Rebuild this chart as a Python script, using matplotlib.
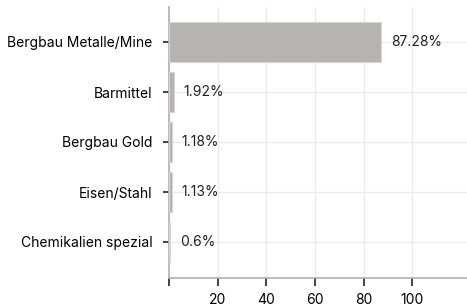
import matplotlib
matplotlib.use("Agg")
import matplotlib.pyplot as plt

categories = ["Bergbau Metalle/Mine", "Barmittel", "Bergbau Gold", "Eisen/Stahl", "Chemikalien spezial"]
values = [87.28, 1.92, 1.18, 1.13, 0.6]
labels = ["87.28%", "1.92%", "1.18%", "1.13%", "0.6%"]
xticks = [0, 20, 40, 60, 80, 100]
xticklabels = ["", "20", "40", "60", "80", "100"]

plt.rcParams["font.family"] = ["Inter", "DejaVu Sans"]

fig = plt.figure(figsize=(4.67, 3.08), dpi=100)
ax = fig.add_axes([169 / 467, 30 / 308, 1 - 169 / 467, 271 / 308])

ypos = list(range(len(categories)))
ax.barh(ypos, values, height=0.8, color="#b5b4b0", edgecolor="#d6d5d2", linewidth=0.8, zorder=3)
for y, v, t in zip(ypos, values, labels):
    ax.text(v + 4, y, t, va="center", ha="left", fontsize=10, color="#222222")

ax.set_yticks(ypos)
ax.set_yticklabels(categories, fontsize=10)
ax.set_xticks(xticks)
ax.set_xticklabels(xticklabels, fontsize=10)
ax.set_xlim(0, 122.4)
ax.set_ylim(4.72, -0.7)

ax.grid(True, color="#ebebeb", linewidth=1, zorder=0)
ax.set_axisbelow(True)
for s in ["top", "right"]:
    ax.spines[s].set_visible(False)
for s in ["left", "bottom"]:
    ax.spines[s].set_color("#b0b0b0")
    ax.spines[s].set_linewidth(1.2)
ax.tick_params(axis="y", length=4, width=1.2, color="#222222", pad=8)
ax.tick_params(axis="x", length=6, width=1.2, color="#222222", pad=5)

plt.savefig("out.png", dpi=100)
